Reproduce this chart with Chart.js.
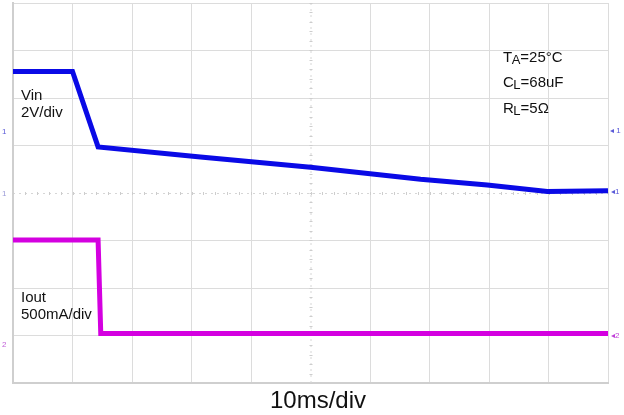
<!DOCTYPE html>
<html>
<head>
<meta charset="utf-8">
<script src="https://cdn.jsdelivr.net/npm/chart.js@4/dist/chart.umd.min.js"></script>
<style>
html,body{margin:0;padding:0;background:#fff;}
#wrap{width:624px;height:415px;position:relative;}
</style>
</head>
<body>
<div id="wrap"><canvas id="c" width="624" height="415"></canvas></div>
<script>
// time axis in ms (10 ms/div), vertical axis in screen divisions (0 = centre)
const vinTime = [0, 10, 14.3, 31.5, 50, 68.5, 79.7, 89.8, 100];
const vinDiv  = [2.56, 2.56, 0.97, 0.76, 0.54, 0.29, 0.17, 0.03, 0.05];
const ioutTime = [0, 14.3, 14.75, 100];
const ioutDiv  = [-0.99, -0.99, -2.96, -2.96];
const xTicks = [0,10,20,30,40,50,60,70,80,90,100];
const yTicks = [-4,-3,-2,-1,0,1,2,3,4];

const FONT = '"Liberation Sans", Arial, sans-serif';

const overlay = {
  id: 'overlay',
  beforeDatasetsDraw(chart) {
    const {ctx, scales:{x, y}} = chart;
    const cx = x.getPixelForValue(50), cy = y.getPixelForValue(0);
    ctx.save();
    ctx.strokeStyle = '#d6d6d6';
    ctx.lineWidth = 1;
    ctx.setLineDash([2,4]);
    ctx.beginPath();
    ctx.moveTo(x.left, cy+0.5); ctx.lineTo(x.right, cy+0.5);
    ctx.moveTo(cx+0.5, y.top); ctx.lineTo(cx+0.5, y.bottom);
    ctx.stroke();
    ctx.setLineDash([]);
    ctx.strokeStyle = '#cdcdcd';
    ctx.beginPath();
    for (let v = 0; v <= 100.001; v += 2) {
      const px = Math.round(x.getPixelForValue(v)) + 0.5;
      ctx.moveTo(px, cy-1); ctx.lineTo(px, cy+2);
    }
    for (let v = -4; v <= 4.001; v += 0.2) {
      const py = Math.round(y.getPixelForValue(v)) + 0.5;
      ctx.moveTo(cx-1, py); ctx.lineTo(cx+2, py);
    }
    ctx.stroke();
    ctx.restore();
  },
  afterDatasetsDraw(chart) {
    const {ctx} = chart;
    ctx.save();
    ctx.fillStyle = '#111';
    ctx.textBaseline = 'alphabetic';
    ctx.font = '15px ' + FONT;
    ctx.fillText('Vin', 21, 100);
    ctx.fillText('2V/div', 21, 117);
    ctx.fillText('Iout', 21, 302);
    ctx.fillText('500mA/div', 21, 319);
    function sub(main, s, rest, px, py) {
      ctx.font = '15px ' + FONT;
      ctx.fillText(main, px, py);
      let w = ctx.measureText(main).width;
      ctx.font = '13px ' + FONT;
      ctx.fillText(s, px + w - 0.5, py + 2);
      w += ctx.measureText(s).width - 0.5;
      ctx.font = '15px ' + FONT;
      ctx.fillText(rest, px + w, py);
    }
    sub('T','A','=25°C', 503, 62);
    sub('C','L','=68uF', 503, 87);
    sub('R','L','=5Ω', 503, 113);
    ctx.font = '24px ' + FONT;
    ctx.textAlign = 'center';
    ctx.fillText('10ms/div', 318, 408);
    // channel level markers
    ctx.font = '8px ' + FONT;
    ctx.textAlign = 'left';
    ctx.fillStyle = '#5a5ad8';
    ctx.fillText('1', 2, 134);
    ctx.fillStyle = '#9a9ad8';
    ctx.fillText('1', 2, 196);
    ctx.fillStyle = '#c060d8';
    ctx.fillText('2', 2, 347);
    ctx.fillStyle = '#5a5ad8';
    ctx.fillText('◂ 1', 610, 133);
    ctx.fillText('◂1', 611, 194);
    ctx.fillStyle = '#c040d8';
    ctx.fillText('◂2', 611, 338);
    ctx.restore();
  }
};

new Chart(document.getElementById('c'), {
  type: 'line',
  data: {
    datasets: [
      {
        data: vinTime.map((t,i) => ({x:t, y:vinDiv[i]})),
        borderColor: '#0a0ae6',
        borderWidth: 5,
        pointRadius: 0,
        tension: 0
      },
      {
        data: ioutTime.map((t,i) => ({x:t, y:ioutDiv[i]})),
        borderColor: '#d400e0',
        borderWidth: 5,
        pointRadius: 0,
        tension: 0
      }
    ]
  },
  options: {
    responsive: false,
    animation: false,
    devicePixelRatio: 1,
    layout: { padding: { left: 13, top: 3, right: 16, bottom: 32 } },
    plugins: { legend: { display: false }, tooltip: { enabled: false } },
    scales: {
      x: {
        type: 'linear', min: 0, max: 100,
        afterBuildTicks: s => { s.ticks = xTicks.map(v => ({value:v})); },
        ticks: { display: false },
        grid: { drawTicks: false, color: ctx => (ctx.tick && ctx.tick.value === 50) ? 'rgba(0,0,0,0)' : '#dcdcdc', lineWidth: 1 },
        border: { display: true, color: '#cfcfcf', width: 2 }
      },
      y: {
        type: 'linear', min: -4, max: 4,
        afterBuildTicks: s => { s.ticks = yTicks.map(v => ({value:v})); },
        ticks: { display: false },
        grid: { drawTicks: false, color: ctx => (ctx.tick && ctx.tick.value === 0) ? 'rgba(0,0,0,0)' : '#dcdcdc', lineWidth: 1 },
        border: { display: true, color: '#cfcfcf', width: 2 }
      }
    }
  },
  plugins: [overlay]
});
</script>
</body>
</html>
